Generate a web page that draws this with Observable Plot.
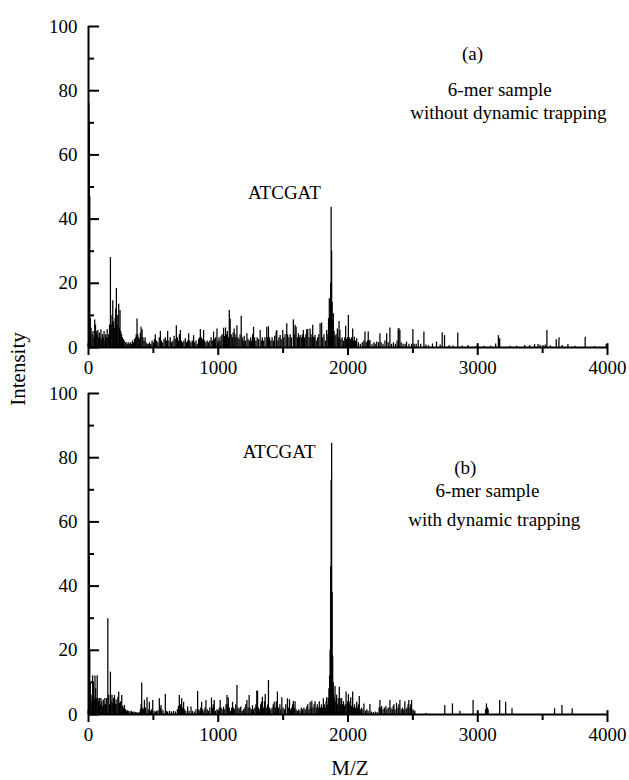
<!DOCTYPE html>
<html><head><meta charset="utf-8">
<script src="https://cdn.jsdelivr.net/npm/d3@7"></script>
<script src="https://cdn.jsdelivr.net/npm/@observablehq/plot@0.6"></script>
<style>
body{margin:0;background:#fff;}
#wrap{position:relative;width:629px;height:780px;font-family:"Liberation Serif","Times New Roman",serif;color:#000;}
#wrap svg{display:block;}
#wrap svg text{font-family:"Liberation Serif","Times New Roman",serif !important;}
.lab{position:absolute;font-size:21px;white-space:nowrap;transform:translate(-50%,-50%);}
#ylab{left:18px;top:369px;transform:translate(-50%,-50%) rotate(-90deg);}
#xlab{left:350px;top:768px;}
</style></head><body><div id="wrap"></div>
<script>
// ---- data (m/z, relative intensity) ----
const peaksA = [[3,76],[6,70],[10,47],[14,9],[20,6],[28,4],[35,5],[42,3],[48,8.6],[54,7],[60,5],[66,4],[72,5.3],[78,3],[84,4.5],[90,3],[96,5.5],[102,2.5],[108,4],[114,3],[120,5],[126,2],[132,4],[138,3],[144,5.5],[150,3],[156,4],[162,7],[169,28],[175,7],[181,10],[187,14.6],[193,8],[199,6],[205,9],[210,12],[215,18.4],[220,7],[226,10],[233,13.5],[238,6],[243,11.5],[249,5],[255,4],[262,3],[268,2.5],[275,2],[282,1.5],[290,1.5],[298,1],[306,1.5],[314,1],[322,1.5],[330,1],[338,2],[346,1.5],[354,2.5],[362,3],[368,4],[374,8.9],[380,4],[387,3],[394,2.5],[400,4.5],[405,6.3],[413,5.5],[420,3],[428,2],[436,3],[444,1.5],[452,1],[460,1],[470,1.5],[480,1],[490,2],[500,1.5],[508,2.5],[515,4],[525,2],[535,1.5],[545,3],[554,5],[562,2],[572,1.5],[582,2.5],[592,3],[600,2],[610,5],[620,2],[630,3],[640,1.5],[650,2],[660,3.5],[668,2.5],[677,6.8],[685,3],[694,2],[700,4],[708,5.3],[716,2],[725,1.5],[735,2],[746,2.7],[755,1.5],[764,2],[772,4.3],[780,2],[790,1.5],[800,2],[810,3.7],[818,1.5],[828,2],[838,1],[848,2.5],[855,3],[862,5.6],[870,3],[879,2.5],[887,5.3],[895,2],[905,1.5],[915,2],[925,1.5],[935,2],[945,3],[954,2],[964,4.8],[972,2.5],[980,3],[990,5.8],[998,2],[1006,3],[1014,2],[1022,3.5],[1030,4],[1041,6],[1048,3.5],[1056,6.1],[1063,4],[1070,5],[1078,3],[1085,11.5],[1092,8.9],[1100,4],[1108,3],[1115,4.5],[1123,5.8],[1130,3],[1137,4],[1144,6.8],[1152,3],[1160,2.5],[1168,4],[1177,9.7],[1185,3],[1193,2],[1200,3.5],[1210,2],[1221,4.3],[1230,2.5],[1240,2],[1250,3],[1258,2],[1265,4],[1272,6.3],[1280,3],[1290,2],[1300,3],[1310,2.5],[1323,5.3],[1332,2],[1340,3],[1350,2],[1360,3],[1374,6.3],[1380,3],[1387,6.5],[1395,3],[1405,2],[1415,3],[1425,2],[1435,3.5],[1446,4.8],[1451,5.3],[1460,2],[1468,3],[1477,3.7],[1485,2.5],[1497,5.3],[1505,3],[1515,4],[1528,7.4],[1535,4],[1545,3],[1555,4],[1565,3],[1579,8.6],[1586,4],[1592,6.9],[1600,6.3],[1610,3],[1618,4.3],[1625,3],[1631,3.7],[1640,3],[1648,4],[1656,5.3],[1665,3],[1675,4],[1682,5.6],[1690,5.5],[1700,3],[1708,5.8],[1715,4],[1722,3],[1728,6.9],[1733,3.2],[1740,3],[1746,3.7],[1755,2],[1765,3],[1775,4],[1785,7.4],[1797,7.6],[1805,3],[1815,4],[1825,2],[1836,5.3],[1845,4],[1850,9],[1856,15.2],[1862,10],[1866,20],[1870,43.7],[1874,30],[1878,14],[1882,8],[1887,10.5],[1893,5],[1900,3.5],[1908,4],[1918,5.8],[1925,3],[1931,8.1],[1938,5.3],[1945,2.5],[1955,3],[1965,2],[1975,3],[1982,6.6],[1990,2.5],[1996,3],[2003,10],[2010,3],[2020,2.5],[2028,3],[2036,5.8],[2042,2],[2049,3.2],[2058,2],[2067,2.7],[2080,1.5],[2095,1],[2110,1.5],[2122,2],[2131,4.8],[2140,1.5],[2150,2],[2156,4.8],[2163,2],[2169,2.2],[2185,1],[2200,1.5],[2210,1],[2221,1.7],[2235,1.5],[2246,4.3],[2255,1.5],[2270,1],[2285,2],[2298,4.3],[2310,1.5],[2323,6.1],[2335,1],[2350,1.5],[2365,1],[2378,2],[2387,5.8],[2392,5.9],[2400,5.3],[2410,1.5],[2425,1],[2440,1],[2451,1.7],[2470,1],[2490,1],[2500,5.6],[2510,1],[2525,1],[2541,2.2],[2560,1],[2585,4.8],[2600,0.8],[2620,0.6],[2651,1.1],[2682,1.7],[2710,0.8],[2726,4.6],[2744,3.7],[2780,0.6],[2810,0.5],[2846,4.5],[2880,0.5],[2926,0.6],[2990,0.4],[3050,0.4],[3100,0.5],[3138,1.1],[3159,3.7],[3169,2.7],[3250,0.4],[3300,0.4],[3362,0.6],[3400,0.6],[3438,0.9],[3464,0.9],[3480,0.7],[3503,0.6],[3520,0.8],[3533,5.3],[3560,0.5],[3605,2.4],[3626,3],[3650,0.6],[3695,0.9],[3750,0.4],[3828,3.2],[3900,0.3],[3990,0.9]];

const peaksB = [[3,60],[6,49],[10,20],[14,10],[20,6],[26,4],[32,12.1],[38,9.6],[44,5],[50,12],[55,8],[60,5],[67,12.1],[72,5],[78,4],[84,5],[90,3],[96,5],[102,4],[108,2.5],[114,4.5],[120,3],[126,5],[132,3],[140,5],[149,29.8],[156,6],[162,3],[169,13.2],[175,4],[181,6],[187,3.5],[193,5],[200,5.9],[206,3],[212,4.5],[218,3],[226,5.4],[233,7],[240,3.5],[248,4],[256,5.9],[263,2.5],[270,2],[277,2.8],[285,1.5],[293,1],[300,1.2],[310,1],[320,0.8],[330,1],[340,0.7],[350,0.8],[360,0.6],[370,0.5],[380,0.5],[390,0.6],[400,1.5],[405,3],[410,9.8],[418,2],[424,1.5],[431,4.4],[440,2],[451,5.2],[460,1.5],[469,3.8],[478,1],[486,1.5],[495,4.4],[505,1],[515,0.8],[525,1],[535,1.2],[546,4.9],[553,2],[559,2.8],[566,1.5],[575,1],[592,6.2],[600,1],[610,0.8],[625,1],[640,0.8],[655,1],[670,0.8],[685,1.5],[693,2.5],[700,5.9],[710,3],[718,4.9],[725,2],[733,3.8],[740,1.5],[750,1],[764,2.3],[775,1],[790,2.3],[800,1],[815,0.8],[828,1.5],[841,7.2],[850,1.5],[858,1],[865,2],[872,3.8],[880,1.5],[890,1],[898,2],[905,4.4],[915,1.5],[925,1],[935,2],[948,5.1],[955,2],[962,3],[969,4.4],[978,1],[990,1.5],[1000,1],[1008,2],[1015,4.4],[1022,2],[1030,1.5],[1041,2.3],[1050,1.5],[1060,3],[1067,5.9],[1072,3],[1077,5.2],[1085,2],[1095,1],[1103,2],[1110,3.8],[1118,2],[1125,1.5],[1135,3],[1144,9],[1152,2],[1160,1.5],[1168,2],[1174,2.3],[1185,1],[1195,1.5],[1205,2],[1212,3],[1221,4.4],[1230,2],[1238,5.9],[1245,2],[1255,1.5],[1264,2.8],[1272,1.5],[1282,2],[1290,3],[1297,7.3],[1303,7.2],[1310,2],[1320,1.5],[1327,3],[1333,3.8],[1340,5.4],[1350,2],[1356,4],[1362,6.2],[1370,2],[1380,3],[1387,10.6],[1395,2],[1405,1.5],[1415,2],[1424,3],[1431,3.8],[1440,2],[1447,4],[1456,7],[1465,2],[1475,3],[1482,1.5],[1490,5.2],[1500,2],[1510,1.5],[1520,3],[1533,4.9],[1540,2],[1549,4.6],[1558,1.5],[1566,2],[1573,3],[1579,4.1],[1586,2],[1592,4],[1600,1.5],[1610,1],[1620,1.5],[1630,1],[1640,2],[1650,1.5],[1660,2],[1670,1.5],[1682,2.3],[1690,3],[1700,1.5],[1708,3.8],[1715,2],[1721,4.1],[1730,2],[1738,3],[1746,4],[1755,2],[1763,3],[1771,2],[1779,4],[1788,2],[1795,3],[1803,2],[1810,4.9],[1818,3],[1825,2],[1831,4],[1836,5.2],[1842,3],[1848,5],[1853,8],[1858,12],[1862,20],[1866,46],[1870,73],[1874,84.5],[1878,38],[1882,18],[1886,10],[1890,6],[1895,5],[1900,8.7],[1906,4],[1912,6],[1918,3],[1925,5],[1933,8.5],[1940,3],[1945,5],[1951,4.9],[1958,3],[1965,4],[1972,2.5],[1978,3],[1985,7],[1992,3],[1997,4],[2003,6.2],[2010,3],[2015,4],[2021,5.2],[2028,2.5],[2036,7],[2043,2],[2050,3],[2058,2],[2067,3.8],[2075,2],[2080,3],[2087,5.6],[2095,1.5],[2105,2],[2115,1.5],[2123,3.3],[2135,1],[2145,1.5],[2155,1],[2169,3.1],[2180,0.8],[2195,0.6],[2210,0.8],[2225,0.6],[2240,2],[2246,4.4],[2252,2],[2259,2.5],[2270,1.5],[2280,2],[2292,2.5],[2300,1.5],[2310,2],[2323,4.4],[2330,2],[2340,1.5],[2348,2.5],[2354,3],[2362,1.5],[2374,3.5],[2385,2],[2392,3],[2400,4.4],[2410,1.5],[2420,2],[2430,1.5],[2438,4],[2448,1.5],[2455,2],[2463,3],[2469,4.4],[2478,2],[2484,3],[2490,4.4],[2500,1.5],[2508,1],[2515,1],[2600,0.3],[2746,2.8],[2805,3.3],[2862,1],[2964,4.4],[3000,0.4],[3060,1.5],[3067,3.3],[3075,2],[3080,1.5],[3169,4.4],[3215,3.8],[3264,1.8],[3592,1.8],[3649,2.8],[3728,1.8]];

const xMajor = [0, 1000, 2000, 3000, 4000];
const xMinor = [500, 1500, 2500, 3500];
const yMajor = [0, 20, 40, 60, 80, 100];
const yMinor = [10, 30, 50, 70, 90];
const notesA = ["(a)", "6-mer sample", "without dynamic trapping", "ATCGAT"];
const notesB = ["ATCGAT", "(b)", "6-mer sample", "with dynamic trapping"];
const xTitle = "M/Z";
const yTitle = "Intensity";

// ---- drawing ----
const W = 629, ML = 88, MR = 22;
const plotW = W - ML - MR;
const serif = '"Liberation Serif", "Times New Roman", serif';
function spectrum(peaks, notes, nx, ny, height, marginTop, marginBottom) {
  return Plot.plot({
    width: W, height, marginLeft: ML, marginRight: MR, marginTop, marginBottom,
    style: {fontFamily: serif, fontSize: "19px", color: "#000", background: "transparent", overflow: "visible"},
    x: {domain: [0, 4000]},
    y: {domain: [0, 100]},
    marks: [
      Plot.ruleX(peaks, {x: d => d[0], y1: 0, y2: d => d[1], stroke: "#000", strokeWidth: 1.25}),
      Plot.ruleY([0], {strokeWidth: 2}),
      Plot.ruleX([0], {y1: 0, y2: 100, strokeWidth: 2}),
      Plot.tickY(yMajor, {y: d => d, insetRight: plotW - 11, strokeWidth: 2}),
      Plot.tickY(yMinor, {y: d => d, insetRight: plotW - 6, strokeWidth: 2}),
      Plot.axisY({ticks: yMajor, tickSize: 0, tickPadding: 11, label: null, fontSize: 19, fontFamily: serif, tickFormat: d => String(d)}),
      Plot.axisX({ticks: xMajor, tickSize: 8, tickPadding: 5, strokeWidth: 2, label: null, fontSize: 19, fontFamily: serif, tickFormat: d => String(d)}),
      Plot.axisX({ticks: xMinor, tickSize: 6, strokeWidth: 2, label: null, tickFormat: () => ""}),
      Plot.ruleX(xMajor, {y1: 0, y2: 1.2, strokeWidth: 2}),
      Plot.text(notes, {x: nx, y: ny, text: d => d, fontSize: 19, fontFamily: serif})
    ]
  });
}

const wrap = document.getElementById("wrap");
wrap.append(spectrum(peaksA, notesA, [2959, 3170, 3236, 1510], [91.6, 80.4, 73.2, 48.3], 370, 26, 23));
wrap.append(spectrum(peaksB, notesB, [1469, 2904, 3074, 3128], [81.9, 76.9, 69.5, 60.7], 410, 23, 66));
const yl = document.createElement("div"); yl.className = "lab"; yl.id = "ylab"; yl.textContent = yTitle; wrap.append(yl);
const xl = document.createElement("div"); xl.className = "lab"; xl.id = "xlab"; xl.textContent = xTitle; wrap.append(xl);
</script></body></html>
